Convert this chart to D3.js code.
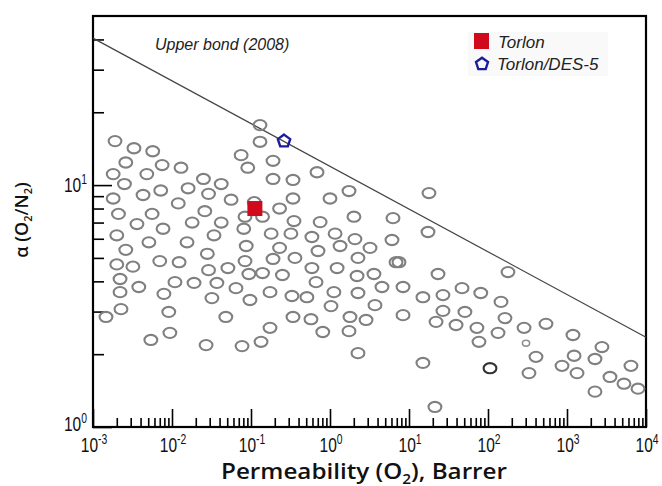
<!DOCTYPE html>
<html>
<head>
<meta charset="utf-8">
<script src="https://cdn.jsdelivr.net/npm/d3@7/dist/d3.min.js"></script>
<style>
  body { margin: 0; background: #fff; }
</style>
</head>
<body>
<div id="chart"></div>
<script>
// Literature polymers (O2 permeability in Barrer, O2/N2 selectivity)
const permeability = [
  0.13, 0.0019, 0.0033, 0.0057, 0.13, 0.0026, 0.075, 0.19, 0.0075, 0.013,
  0.091, 0.0018, 0.0048, 0.0025, 0.025, 0.19, 0.042, 0.016, 0.0072, 0.029,
  0.0018, 0.0043, 0.012, 0.056, 0.11, 0.23, 0.0021, 0.0056, 0.026, 0.084,
  0.14, 0.0036, 0.018, 0.042, 0.0077, 0.081, 0.0020, 0.034, 0.18, 0.0051,
  0.0155, 0.087, 0.0026, 0.23, 0.028, 0.0020, 0.0032, 0.0070, 0.0123, 0.084,
  0.19, 0.029, 0.051, 0.094, 0.14, 0.25, 0.0022, 0.0022, 0.0038, 0.0109,
  0.019, 0.037, 0.0645, 0.0079, 0.032, 0.097, 0.174, 0.00226, 0.00146, 0.0091,
  0.048, 0.174, 0.0054, 0.0094, 0.027, 0.077, 0.134,
  0.685, 0.34, 1.74, 0.34, 1.0, 17.9, 2.01, 6.27, 0.35, 0.75,
  17.4, 0.32, 0.59, 1.16, 2.07, 1.34, 6.09, 3.21, 0.705, 0.36,
  2.26, 6.85, 7.47, 0.59, 1.23, 3.6, 23.3, 2.2, 0.665, 0.33,
  0.51, 1.12, 2.26, 4.55, 8.4, 15, 26.9, 46.9, 1.03, 3.71,
  0.34, 0.574, 1.79, 2.86, 8.4, 26.9, 22, 39.4, 51, 0.81,
  1.74, 2.26, 15, 21.3,
  179, 81, 146, 164, 72.4, 134, 76.9, 286, 542, 405,
  330, 1190, 2770, 1230, 2260, 865, 1340, 6450, 3500, 5260,
  7920, 2260
];
const selectivity = [
  17.7, 15.2, 14.2, 13.8, 15.1, 12.4, 13.3, 12.6, 12.1, 11.8,
  11.8, 11.1, 11.1, 10.1, 10.6, 10.6, 10.1, 9.7, 9.5, 9.2,
  8.8, 9.1, 8.4, 8.7, 8.5, 8.0, 7.6, 7.6, 7.8, 7.4,
  7.4, 6.9, 7.0, 7.0, 6.6, 6.6, 6.2, 6.2, 6.3, 5.8,
  5.8, 5.6, 5.4, 5.5, 5.2, 4.7, 4.6, 4.85, 4.8, 4.85,
  4.95, 4.45, 4.54, 4.29, 4.33, 4.25, 4.09, 3.61, 3.79, 3.97,
  3.94, 3.94, 3.75, 3.55, 3.41, 3.35, 3.61, 3.07, 2.85, 2.99,
  2.85, 2.57, 2.29, 2.45, 2.18, 2.16, 2.25,
  11.3, 10.5, 9.45, 8.8, 8.8, 9.27, 7.4, 7.3, 7.1, 7.03,
  6.4, 6.3, 6.1, 6.3, 5.98, 5.6, 5.93, 5.5, 5.34, 5.0,
  5.0, 4.8, 4.8, 4.54, 4.54, 4.29, 4.29, 4.21, 3.97, 3.48,
  3.44, 3.61, 3.58, 3.79, 3.79, 3.44, 3.51, 3.75, 3.16, 3.19,
  2.85, 2.79, 2.85, 2.77, 2.90, 3.02, 2.72, 2.64, 2.99, 2.47,
  2.49, 2.02, 1.84, 1.21,
  4.37, 3.58, 3.29, 2.82, 2.57, 2.45, 2.25, 2.57, 2.67, 1.95,
  1.67, 2.40, 2.14, 1.97, 1.91, 1.79, 1.67, 1.79, 1.61, 1.51,
  1.44, 1.40
];
// odd ones in the cloud
const smallP = [303], smallA = [2.22];
const darkP = [106], darkA = [1.75];

// this work
const torlonP = [0.112], torlonA = [8.0];
const desP = [0.262], desA = [15.2];

// Robeson upper bound 2008 end points
const boundP = [1e-3, 1e4], boundA = [40.5, 2.35];

const xTickValues = [1e-3, 1e-2, 1e-1, 1e0, 1e1, 1e2, 1e3, 1e4];
const xTickLabels = ['-3', '-2', '-1', '0', '1', '2', '3', '4'];
const yTickValues = [1, 10];
const yTickLabels = ['0', '1'];

const W = 662, H = 486;
const plotLeft = 93, plotRight = 646, plotTop = 16, plotBottom = 427;

const svg = d3.select('#chart')
    .append('svg')
    .attr('width', W)
    .attr('height', H)
    .style('font-family', '"Liberation Sans", Arial, sans-serif');

const x = d3.scaleLog().domain([1e-3, 1e4]).range([plotLeft, plotRight]);
const y = d3.scaleLog().domain([1, 50]).range([plotBottom, plotTop]);

// Minor + major ticks, pointing inward
const isPow = v => Math.abs(Math.log10(v) - Math.round(Math.log10(v))) < 1e-9;
const xMinor = x.ticks().filter(v => !isPow(v));
const yMinor = y.ticks().filter(v => !isPow(v) && v < 50);

function tickAxis(axis, transform) {
    const g = svg.append('g').attr('transform', transform).call(axis);
    g.select('.domain').remove();
    g.selectAll('line').attr('stroke', '#000').attr('stroke-width', 1.6);
    return g;
}
tickAxis(d3.axisBottom(x).tickValues(xMinor).tickSize(-9).tickFormat(''), `translate(0,${plotBottom})`);
tickAxis(d3.axisBottom(x).tickValues(xTickValues).tickSize(-18).tickFormat(''), `translate(0,${plotBottom})`);
tickAxis(d3.axisLeft(y).tickValues(yMinor).tickSize(-11).tickFormat(''), `translate(${plotLeft},0)`);
tickAxis(d3.axisLeft(y).tickValues(yTickValues).tickSize(-19).tickFormat(''), `translate(${plotLeft},0)`);

// Tick labels "10^n" (narrow, like the original)
function powLabel(px, py, exp, anchor) {
    const g = svg.append('g').attr('transform', `translate(${px},${py}) scale(0.74,1)`);
    const t = g.append('text')
        .attr('text-anchor', anchor)
        .attr('font-size', 21)
        .attr('fill', '#111');
    t.append('tspan').text('10');
    t.append('tspan').attr('font-size', 14).attr('dy', -8).text(exp);
}
xTickValues.forEach((v, i) => powLabel(x(v) + 1, 452, xTickLabels[i], 'middle'));
yTickValues.forEach((v, i) => powLabel(87, y(v) + 7 - (i === 0 ? 3 : 0), yTickLabels[i], 'end'));

// Frame
svg.append('rect')
    .attr('x', plotLeft).attr('y', plotTop)
    .attr('width', plotRight - plotLeft).attr('height', plotBottom - plotTop)
    .attr('fill', 'none')
    .attr('stroke', '#000')
    .attr('stroke-width', 2.2);

// Upper bound line
svg.append('path')
    .datum(boundP.map((p, i) => [p, boundA[i]]))
    .attr('d', d3.line().x(d => x(d[0])).y(d => y(d[1])))
    .attr('fill', 'none')
    .attr('stroke', '#444')
    .attr('stroke-width', 1.2);

svg.append('text')
    .attr('x', 155).attr('y', 50)
    .attr('font-size', 16)
    .attr('font-style', 'italic')
    .attr('fill', '#222')
    .text('Upper bond (2008)');

// Data cloud
svg.append('g')
    .selectAll('ellipse')
    .data(permeability.map((p, i) => [p, selectivity[i]]))
    .join('ellipse')
    .attr('cx', d => x(d[0]))
    .attr('cy', d => y(d[1]))
    .attr('rx', 6.4)
    .attr('ry', 5.1)
    .attr('fill', 'none')
    .attr('stroke', '#808080')
    .attr('stroke-width', 2.1);

svg.append('g')
    .selectAll('ellipse')
    .data(smallP.map((p, i) => [p, smallA[i]]))
    .join('ellipse')
    .attr('cx', d => x(d[0])).attr('cy', d => y(d[1]))
    .attr('rx', 3.6).attr('ry', 2.9)
    .attr('fill', 'none').attr('stroke', '#909090').attr('stroke-width', 1.6);

svg.append('g')
    .selectAll('ellipse')
    .data(darkP.map((p, i) => [p, darkA[i]]))
    .join('ellipse')
    .attr('cx', d => x(d[0])).attr('cy', d => y(d[1]))
    .attr('rx', 6.4).attr('ry', 5.1)
    .attr('fill', 'none').attr('stroke', '#333').attr('stroke-width', 2.1);

// Torlon (red square) and Torlon/DES-5 (blue pentagon)
const red = '#d0091c', blue = '#1c1c9c';
const pentagon = r => d3.line()(d3.range(5).map(k => {
    const a = -Math.PI / 2 + k * 2 * Math.PI / 5;
    return [r * Math.cos(a), r * Math.sin(a)];
})) + 'Z';

svg.append('g')
    .selectAll('rect')
    .data(torlonP.map((p, i) => [p, torlonA[i]]))
    .join('rect')
    .attr('x', d => x(d[0]) - 7.5)
    .attr('y', d => y(d[1]) - 7.5)
    .attr('width', 15).attr('height', 15)
    .attr('fill', red);

svg.append('g')
    .selectAll('path')
    .data(desP.map((p, i) => [p, desA[i]]))
    .join('path')
    .attr('transform', d => `translate(${x(d[0])},${y(d[1])})`)
    .attr('d', pentagon(6.5))
    .attr('fill', 'none')
    .attr('stroke', blue)
    .attr('stroke-width', 2.4);

// Legend
svg.append('rect')
    .attr('x', 468).attr('y', 32).attr('width', 140).attr('height', 44)
    .attr('fill', '#f9f9f9');
svg.append('rect')
    .attr('x', 474).attr('y', 33).attr('width', 15).attr('height', 16)
    .attr('fill', red);
svg.append('path')
    .attr('transform', 'translate(482,64)')
    .attr('d', pentagon(6.3))
    .attr('fill', 'none')
    .attr('stroke', blue)
    .attr('stroke-width', 2.4);
svg.append('text')
    .attr('x', 498).attr('y', 48)
    .attr('font-size', 17).attr('font-style', 'italic').attr('fill', '#222')
    .text('Torlon');
svg.append('text')
    .attr('x', 497).attr('y', 70)
    .attr('font-size', 17).attr('font-style', 'italic').attr('fill', '#222')
    .text('Torlon/DES-5');

// Axis titles
const xt = svg.append('text')
    .attr('x', 364).attr('y', 479)
    .attr('text-anchor', 'middle')
    .attr('font-family', '"Open Sans", "Noto Sans", sans-serif')
    .attr('font-weight', 600)
    .attr('font-size', 22)
    .attr('textLength', 286)
    .attr('lengthAdjust', 'spacingAndGlyphs')
    .attr('fill', '#111');
xt.append('tspan').text('Permeability (O');
xt.append('tspan').attr('font-size', 14).attr('dy', 5).text('2');
xt.append('tspan').attr('dy', -5).text('), Barrer');

const yt = svg.append('text')
    .attr('transform', 'translate(28,220) rotate(-90)')
    .attr('text-anchor', 'middle')
    .attr('font-family', '"Open Sans", "Noto Sans", sans-serif')
    .attr('font-weight', 600)
    .attr('font-size', 18)
    .attr('fill', '#111');
yt.append('tspan').text('α (O');
yt.append('tspan').attr('font-size', 11).attr('dy', 4).text('2');
yt.append('tspan').attr('dy', -4).text('/N');
yt.append('tspan').attr('font-size', 11).attr('dy', 4).text('2');
yt.append('tspan').attr('dy', -4).text(')');
</script>
</body>
</html>
